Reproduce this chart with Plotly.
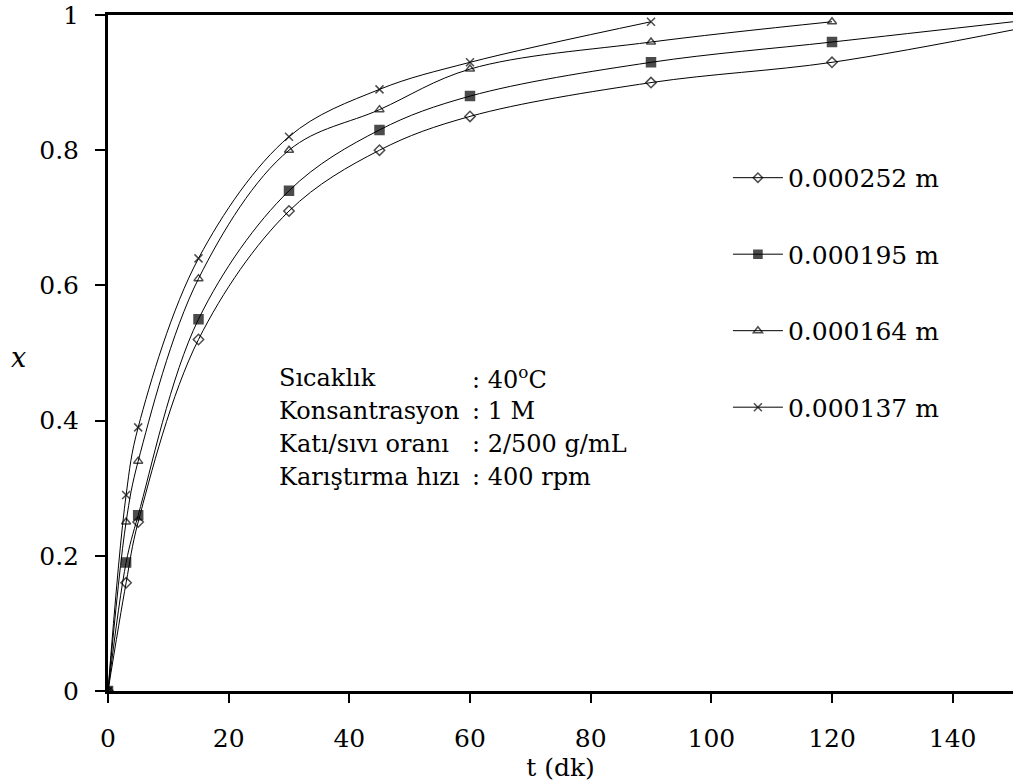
import plotly.graph_objects as go

# ---- data ----
t_252 = [0, 3, 5, 15, 30, 45, 60, 90, 120, 150]
x_252 = [0, 0.16, 0.25, 0.52, 0.71, 0.80, 0.85, 0.90, 0.93, 0.978]

t_195 = [0, 3, 5, 15, 30, 45, 60, 90, 120, 150]
x_195 = [0, 0.19, 0.26, 0.55, 0.74, 0.83, 0.88, 0.93, 0.96, 0.99]

t_164 = [0, 3, 5, 15, 30, 45, 60, 90, 120]
x_164 = [0, 0.25, 0.34, 0.61, 0.80, 0.86, 0.92, 0.96, 0.99]

t_137 = [0, 3, 5, 15, 30, 45, 60, 90]
x_137 = [0, 0.29, 0.39, 0.64, 0.82, 0.89, 0.93, 0.99]

names = ["0.000252 m", "0.000195 m", "0.000164 m", "0.000137 m"]

x_ticks = [0, 20, 40, 60, 80, 100, 120, 140]
y_ticks = [0, 0.2, 0.4, 0.6, 0.8, 1]
y_tick_text = ["0", "0.2", "0.4", "0.6", "0.8", "1"]

cond_labels = ["Sıcaklık", "Konsantrasyon", "Katı/sıvı oranı", "Karıştırma hızı"]
cond_values = [": 40<sup>o</sup>C", ": 1 M", ": 2/500 g/mL", ": 400 rpm"]

FONT = "DejaVu Serif"
FS = 25

series = [
    (t_252, x_252, names[0], "diamond-open", 8, "black"),
    (t_195, x_195, names[1], "square", 9, "black"),
    (t_164, x_164, names[2], "triangle-up-open", 8, "black"),
    (t_137, x_137, names[3], "x-thin-open", 8, "black"),
]

fig = go.Figure()
for i, (tt, xx, nm, sym, sz, col) in enumerate(series):
    sizes = [sz] * len(tt)
    if tt[-1] >= 150:
        sizes[-1] = 0
    fig.add_trace(go.Scatter(
        x=tt, y=xx, name=nm, mode="lines+markers",
        line=dict(color="black", width=1, shape="spline", smoothing=1),
        marker=dict(symbol=sym, size=sizes, color=col,
                    line=dict(color="black", width=1.5)),
        legendgroup=f"g{i}",
    ))

fig.update_layout(
    width=1015, height=782,
    margin=dict(l=108, r=2, t=15, b=91),
    paper_bgcolor="white", plot_bgcolor="white",
    font=dict(family=FONT, size=FS, color="black"),
    showlegend=True,
    legend=dict(
        x=0.685, y=0.793, xanchor="left", yanchor="top",
        traceorder="grouped", tracegroupgap=41, itemwidth=50,
        font=dict(family=FONT, size=FS, color="black"),
        bgcolor="rgba(0,0,0,0)",
    ),
    xaxis=dict(
        range=[0, 150], tickvals=x_ticks, ticks="outside", ticklen=9, tickwidth=2,
        tickcolor="black", showline=True, linewidth=3, linecolor="black",
        mirror=True, showgrid=False, zeroline=False, ticklabelstandoff=14,
        title=dict(text="t (dk)", standoff=0, font=dict(family=FONT, size=FS)),
    ),
    yaxis=dict(
        range=[0, 1], tickvals=y_ticks, ticktext=y_tick_text, ticks="outside",
        ticklen=10, tickwidth=2, tickcolor="black", showline=True, linewidth=3,
        linecolor="black", showgrid=False, zeroline=False, ticklabelstandoff=11,
        ticklabeloverflow="allow",
    ),
)

plot_w = 1015 - 108 - 2
plot_h = 782 - 15 - 91


def px_to_paper(px, py):
    return (px - 108) / plot_w, (782 - 91 - py) / plot_h


row_y = [378, 411, 444, 477]
for lab, val, ry in zip(cond_labels, cond_values, row_y):
    lx, ly = px_to_paper(277, ry)
    fig.add_annotation(
        x=lx, y=ly, xref="paper", yref="paper", showarrow=False,
        text=lab, xanchor="left", yanchor="middle", align="left",
        font=dict(family=FONT, size=24, color="black"),
    )
    vx, vy = px_to_paper(470, ry)
    fig.add_annotation(
        x=vx, y=vy, xref="paper", yref="paper", showarrow=False,
        text=val, xanchor="left", yanchor="middle", align="left",
        font=dict(family=FONT, size=24, color="black"),
    )

ax, ay = px_to_paper(18, 357)
fig.add_annotation(
    x=ax, y=ay, xref="paper", yref="paper", showarrow=False,
    text="<i>x</i>", xanchor="center", yanchor="middle",
    font=dict(family=FONT, size=27, color="black"),
)

fig.write_html("out.html")
